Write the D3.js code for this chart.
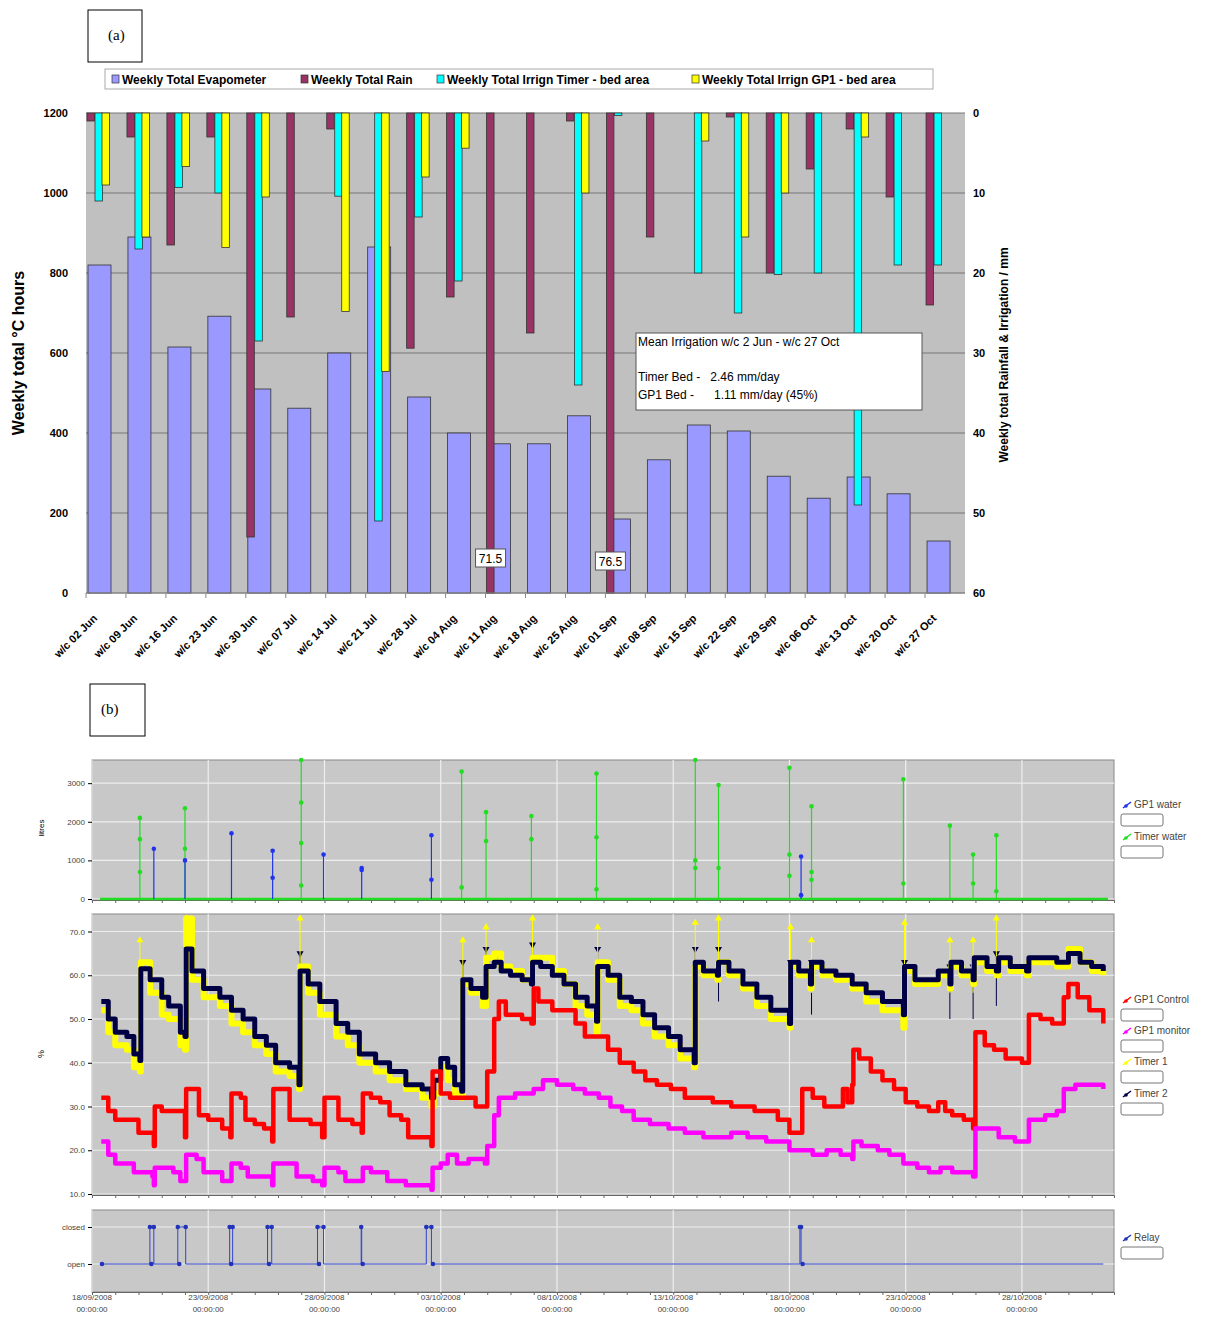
<!DOCTYPE html>
<html><head><meta charset="utf-8">
<script src="https://cdn.jsdelivr.net/npm/d3@7"></script>
<style>body{margin:0;background:#fff}svg{font-family:"Liberation Sans",Arial,sans-serif}</style>
</head><body><div id="chart"></div>
<script>
// ---- (a) weekly totals
const weeks = ["w/c 02 Jun","w/c 09 Jun","w/c 16 Jun","w/c 23 Jun","w/c 30 Jun","w/c 07 Jul","w/c 14 Jul","w/c 21 Jul","w/c 28 Jul","w/c 04 Aug","w/c 11 Aug","w/c 18 Aug","w/c 25 Aug","w/c 01 Sep","w/c 08 Sep","w/c 15 Sep","w/c 22 Sep","w/c 29 Sep","w/c 06 Oct","w/c 13 Oct","w/c 20 Oct","w/c 27 Oct"];
const evap  = [820,890,615,692,510,462,600,865,490,400,373,373,443,185,333,420,405,292,237,290,248,130];
const rain  = [1,3,16.5,3,53,25.5,2,0,29.4,23,71.5,27.5,1,76.5,15.5,0,0.5,20,7,2,10.5,24];
const timer = [11,17,9.3,10,28.5,0,10.4,51,13,21,0,0,34,0.3,0,20,25,20.2,20,49,19,19];
const gp1   = [9,15.5,6.7,16.8,10.5,0,24.8,32.3,8,4.4,0,0,10,0,0,3.5,15.5,10,0,3,0,0];
const leftTicks = [0,200,400,600,800,1000,1200];
const rightTicks = [0,10,20,30,40,50,60];

// ---- (b) logger data, day = days since 18/09/2008 00:00
const dateTicks = ["18/09/2008","23/09/2008","28/09/2008","03/10/2008","08/10/2008","13/10/2008","18/10/2008","23/10/2008","28/10/2008"];
const timerWater = [[2.06,[2100,1550,700]],[4.0,[2350,1300]],[9.0,[3600,2500,1450,350]],[15.9,[3300,300]],[16.95,[2250,1500]],[18.9,[2150,1550]],[21.7,[3250,1600,250]],[25.95,[3600,1000,800]],[26.95,[2950,800]],[30.0,[3400,1150,600]],[30.95,[2400,700,500]],[34.9,[3100,400]],[36.9,[1900]],[37.9,[1150,400]],[38.9,[1650,200]]];
const gp1Water = [[2.66,[1300]],[4.0,[1000]],[6.0,[1700]],[7.77,[1250,550]],[9.96,[1150]],[11.6,[800,750]],[14.6,[1650,500]],[30.5,[1100,100]]];
const relay = [[0.43,0],[2.49,0],[2.49,1],[2.66,1],[2.66,0],[3.69,0],[3.69,1],[4.03,1],[4.03,0],[5.92,0],[5.92,1],[6.05,1],[6.05,0],[7.55,0],[7.55,1],[7.73,1],[7.73,0],[9.7,0],[9.7,1],[9.96,1],[9.96,0],[11.58,0],[11.58,1],[11.6,1],[11.6,0],[14.38,0],[14.38,1],[14.6,1],[14.6,0],[30.45,0],[30.45,1],[30.5,1],[30.5,0],[43.5,0]];
const relayDots = [0.43,2.49,2.66,3.69,4.03,5.92,6.05,7.55,7.73,9.7,9.96,11.58,14.38,14.6,30.45,30.5];
const timer2 = [[0.4,54],[0.7,50],[1.0,47],[1.5,46],[1.8,42],[2.06,40.5],[2.1,61.5],[2.5,59],[3.0,55],[3.3,53],[3.8,47],[4.0,46],[4.05,66],[4.3,61],[4.8,57],[5.5,55],[6.0,52],[6.5,50],[7.0,46],[7.5,44],[7.9,40],[8.5,39],[8.9,35],[8.95,61],[9.3,58],[9.8,54],[10.5,49],[11.0,47],[11.5,42],[12.2,40],[12.8,38],[13.5,35],[14.2,34],[14.6,32],[14.7,36],[15.0,41],[15.3,39],[15.6,35],[15.9,33.5],[15.95,59],[16.3,57],[16.8,55],[16.95,62],[17.3,63],[17.6,61],[18.0,60],[18.5,59],[18.9,58],[18.95,63],[19.3,62],[19.8,60],[20.3,58],[20.8,55],[21.3,53],[21.7,49.5],[21.75,62],[22.2,60],[22.7,55],[23.2,54],[23.7,51],[24.2,48],[24.8,46],[25.3,43],[25.9,40],[25.95,63],[26.3,61],[26.9,60],[26.95,63],[27.4,61],[28,58],[28.6,55],[29.2,52],[30.0,49],[30.05,63],[30.4,61],[30.9,58],[30.95,63],[31.4,61],[32,60],[32.7,58],[33.3,56],[34,54],[34.9,51],[34.95,62],[35.4,59],[35.9,59],[36.4,61],[36.9,58],[36.95,63],[37.4,61],[37.9,59],[37.95,64],[38.5,62],[38.9,61],[39.0,64],[39.5,62],[40.2,61],[40.3,64],[41.0,64],[41.5,63],[42.0,65],[42.5,63],[43.0,62],[43.5,61]];
const timer1 = [[0.4,52],[0.7,47],[1.0,44],[1.5,43],[1.8,39],[2.06,38],[2.1,63],[2.5,56],[3.0,51],[3.3,50],[3.8,44],[4.0,43],[4.05,73],[4.3,59],[4.8,55],[5.5,53],[6.0,49],[6.5,47],[7.0,44],[7.5,42],[7.9,38],[8.5,37],[8.9,34],[8.95,62],[9.3,56],[9.8,51],[10.5,46],[11.0,44],[11.5,40],[12.2,38],[12.8,36],[13.5,34],[14.2,32],[14.6,30],[14.7,33],[15.0,39],[15.3,36],[15.6,33],[15.9,32],[15.95,58],[16.3,56],[16.8,53],[16.95,64],[17.3,65],[17.6,62],[18.0,61],[18.5,59],[18.9,59],[18.95,64],[19.3,64],[19.8,61],[20.3,58],[20.8,53],[21.3,51],[21.7,47],[21.75,63],[22.2,59],[22.7,53],[23.2,52],[23.7,49],[24.2,46],[24.8,44],[25.3,41],[25.9,39],[25.95,62],[26.3,60],[26.9,59],[26.95,63],[27.4,60],[28,57],[28.6,53],[29.2,50],[30.0,48],[30.05,62],[30.4,60],[30.9,57],[30.95,62],[31.4,60],[32,59],[32.7,57],[33.3,54],[34,52],[34.9,48],[34.95,61],[35.4,58],[35.9,58],[36.4,60],[36.9,57],[36.95,62],[37.4,60],[37.9,58],[37.95,63],[38.5,61],[38.9,60],[39.0,63],[39.5,61],[40.2,60],[40.3,63],[41.0,63],[41.5,62],[42.0,66],[42.5,63],[43.0,61],[43.5,60]];
const timer1Peaks = [[2.06,68],[4.05,73],[8.95,73],[15.95,68],[16.95,71],[18.95,73],[21.75,71],[25.95,72],[26.95,73],[30.05,71],[30.95,68],[34.95,72],[36.9,68],[37.9,68],[38.9,73]];
const timer2Peaks = [[4.05,66],[8.95,65],[15.95,63],[16.95,66],[18.95,67],[21.75,66],[25.95,66],[26.95,66],[30.05,63],[30.95,63],[34.95,63],[36.9,62],[37.9,62],[38.9,65]];
const gp1Control = [[0.4,32],[0.7,29],[1.0,27],[1.7,27],[2.0,24],[2.6,24],[2.66,21],[2.7,30],[3.0,29],[3.8,29],[4.0,23],[4.05,34],[4.4,34],[4.6,28],[5.0,27],[5.6,25],[5.95,23],[6.0,33],[6.4,32],[6.6,27],[7.0,26],[7.4,25],[7.75,22],[7.8,34],[8.3,34],[8.5,27],[9.0,27],[9.4,26],[9.9,23],[10.0,32],[10.4,32],[10.6,27],[11.2,26],[11.6,24],[11.65,33],[12.0,32],[12.4,31],[12.8,28],[13.3,27],[13.6,23],[14.2,23],[14.6,21],[14.65,38],[15.0,33],[15.4,32],[16.0,32],[16.5,30],[16.9,30],[17.0,38],[17.3,50],[17.5,54],[17.8,51],[18.5,50],[18.9,49],[19.0,57],[19.2,54],[19.8,52],[20.4,52],[20.8,49],[21.2,46],[21.7,46],[22.2,43],[22.7,40],[23.3,38],[23.8,36],[24.3,35],[24.9,34],[25.5,32],[26.2,32],[26.7,31],[27.5,30],[28.5,29],[29.5,27],[30.0,24],[30.5,24],[30.55,34],[31.0,32],[31.5,30],[32.0,30],[32.3,34],[32.5,31],[32.7,35],[32.75,43],[33.0,41],[33.5,38],[34.0,36],[34.5,34],[35.0,31],[35.5,30],[36.0,29],[36.4,31],[36.7,29],[37.0,28],[37.5,27],[37.9,25],[38.0,47],[38.4,44],[38.8,43],[39.3,41],[40.0,40],[40.3,51],[40.8,50],[41.3,49],[41.8,55],[42.0,58],[42.4,55],[42.9,52],[43.5,49]];
const gp1Monitor = [[0.4,22],[0.7,19],[1.0,17],[1.8,15],[2.6,14],[2.66,12],[2.7,16],[3.5,15],[3.8,13],[4.0,13],[4.05,19],[4.5,18],[4.8,15],[5.6,13],[5.95,13],[6.0,17],[6.4,16],[6.7,14],[7.3,14],[7.75,12],[7.8,17],[8.5,17],[8.8,14],[9.5,13],[9.9,12],[10.0,16],[10.6,15],[10.9,13],[11.6,13],[11.65,16],[12.0,15],[12.7,13],[13.5,12],[14.6,11],[14.65,16],[15.0,17],[15.3,19],[15.7,17],[16.2,18],[16.9,17],[17.0,21],[17.3,28],[17.5,32],[18.2,33],[18.9,33],[19.0,34],[19.4,36],[20.0,35],[20.7,34],[21.2,33],[21.8,32],[22.3,30],[22.8,29],[23.3,27],[24.0,26],[24.8,25],[25.5,24],[26.3,23],[27.0,23],[27.5,24],[28.2,23],[29.0,22],[30.0,20],[30.55,20],[31.0,19],[31.6,20],[32.2,19],[32.7,18],[32.75,22],[33.1,21],[33.8,20],[34.3,19],[34.9,17],[35.5,16],[36.0,15],[36.5,16],[37.0,15],[37.9,14],[38.0,25],[38.5,25],[39.0,23],[39.7,22],[40.2,22],[40.3,27],[41.0,28],[41.5,29],[41.8,34],[42.3,35],[43.0,35],[43.5,34]];

const svg = d3.select("#chart").append("svg").attr("width", 1211).attr("height", 1327);

// ================= (a)
svg.append("rect").attr("x", 88).attr("y", 10).attr("width", 54).attr("height", 52).attr("fill", "#fff").attr("stroke", "#000");
svg.append("text").attr("x", 108).attr("y", 40).attr("font-family", "Liberation Serif").attr("font-size", 15).text("(a)");

const x = d3.scaleBand().domain(weeks).range([86, 965]);
const yL = d3.scaleLinear().domain([0, 1200]).range([593, 113]);
const yR = d3.scaleLinear().domain([0, 60]).range([113, 593]).clamp(true);

svg.append("rect").attr("x", 86).attr("y", 113).attr("width", 879).attr("height", 480).attr("fill", "#c0c0c0");
svg.append("g").selectAll("line").data(leftTicks).join("line")
  .attr("x1", 86).attr("x2", 965).attr("y1", d => yL(d)).attr("y2", d => yL(d)).attr("stroke", "#777");

svg.append("g").selectAll("rect").data(weeks).join("rect")
  .attr("x", (d) => x(d) + 2).attr("width", 23)
  .attr("y", (d, i) => yL(evap[i])).attr("height", (d, i) => 593 - yL(evap[i]))
  .attr("fill", "#9999ff").attr("stroke", "#333").attr("stroke-width", 0.8);

const sec = [[rain, "#993366", 1], [timer, "#00ffff", 9], [gp1, "#ffff00", 16]];
sec.forEach(([vals, col, off]) => {
  svg.append("g").selectAll("rect").data(weeks).join("rect")
    .attr("x", d => x(d) + off).attr("width", 7.5)
    .attr("y", 113).attr("height", (d, i) => yR(vals[i]) - 113)
    .attr("fill", col).attr("stroke", "#333").attr("stroke-width", 0.8)
    .attr("display", (d, i) => vals[i] > 0 ? null : "none");
});

// clipped rain labels
[10, 13].forEach(i => {
  const g = svg.append("g").attr("transform", `translate(${x(weeks[i]) + 5},${i === 10 ? 559 : 562})`);
  g.append("rect").attr("x", -15).attr("y", -10).attr("width", 30).attr("height", 18).attr("fill", "#fff").attr("stroke", "#555");
  g.append("text").attr("text-anchor", "middle").attr("y", 4).attr("font-size", 12).text(rain[i]);
});

svg.append("g").attr("transform", "translate(86,0)")
  .call(d3.axisLeft(yL).tickValues(leftTicks).tickSize(0).tickPadding(18).tickFormat(d3.format("d")))
  .call(g => g.select(".domain").remove())
  .selectAll("text").attr("font-size", 11).attr("font-weight", "bold");
svg.append("g").attr("transform", "translate(965,0)")
  .call(d3.axisRight(yR).tickValues(rightTicks).tickSize(0).tickPadding(8))
  .call(g => g.select(".domain").remove())
  .selectAll("text").attr("font-size", 11).attr("font-weight", "bold");
svg.append("line").attr("x1", 86).attr("x2", 965).attr("y1", 593).attr("y2", 593).attr("stroke", "#888");
svg.append("g").selectAll("line").data(weeks).join("line")
  .attr("x1", d => x(d)).attr("x2", d => x(d)).attr("y1", 593).attr("y2", 598).attr("stroke", "#888");
svg.append("g").selectAll("text").data(weeks).join("text")
  .attr("transform", d => `translate(${x(d) + 12},${619}) rotate(-45)`)
  .attr("text-anchor", "end").attr("font-size", 11).attr("font-weight", "bold").text(d => d);

svg.append("text").attr("transform", "translate(24,353) rotate(-90)").attr("text-anchor", "middle")
  .attr("font-size", 16).attr("font-weight", "bold").text("Weekly total °C hours");
svg.append("text").attr("transform", "translate(1008,355) rotate(-90)").attr("text-anchor", "middle")
  .attr("font-size", 12).attr("font-weight", "bold").text("Weekly total Rainfall & Irrigation / mm");

// legend
svg.append("rect").attr("x", 105).attr("y", 69).attr("width", 828).attr("height", 20).attr("fill", "#fff").attr("stroke", "#aaa");
const legA = [["Weekly Total Evapometer", "#9999ff", 112], ["Weekly Total Rain", "#993366", 301], ["Weekly Total Irrign Timer - bed area", "#00ffff", 437], ["Weekly Total Irrign GP1 - bed area", "#ffff00", 692]];
legA.forEach(([t, c, lx]) => {
  svg.append("rect").attr("x", lx).attr("y", 75).attr("width", 7).attr("height", 8).attr("fill", c).attr("stroke", "#333").attr("stroke-width", 0.7);
  svg.append("text").attr("x", lx + 10).attr("y", 83.5).attr("font-size", 12).attr("font-weight", "bold").text(t);
});

// annotation box
svg.append("rect").attr("x", 636).attr("y", 333).attr("width", 286).attr("height", 77).attr("fill", "#fff").attr("stroke", "#555");
[["Mean Irrigation w/c 2 Jun - w/c 27 Oct", 346], ["Timer Bed -   2.46 mm/day", 381], ["GP1 Bed -      1.11 mm/day (45%)", 399]].forEach(([t, ty]) =>
  svg.append("text").attr("x", 638).attr("y", ty).attr("font-size", 12).style("white-space", "pre").text(t));

// ================= (b)
svg.append("rect").attr("x", 90).attr("y", 684).attr("width", 55).attr("height", 52).attr("fill", "#fff").attr("stroke", "#000");
svg.append("text").attr("x", 101).attr("y", 714).attr("font-family", "Liberation Serif").attr("font-size", 15).text("(b)");

const t = d3.scaleLinear().domain([0, 43.96]).range([92, 1114]);
const tickDays = dateTicks.map((d, i) => i * 5);

function panel(y0, y1) {
  svg.append("rect").attr("x", 92).attr("y", y0).attr("width", 1022).attr("height", y1 - y0)
    .attr("fill", "#c8c8c8").attr("stroke", "#888");
  svg.append("g").selectAll("line").data(tickDays).join("line")
    .attr("x1", d => t(d)).attr("x2", d => t(d)).attr("y1", y0).attr("y2", y1).attr("stroke", "#eee").attr("stroke-width", 1.2);
  svg.append("g").attr("transform", `translate(0,${y1})`)
    .call(d3.axisBottom(t).ticks(44).tickSize(3).tickFormat(""))
    .call(g => g.selectAll("line,path").attr("stroke", "#666"));
}
function hgrid(scale, vals, fmt) {
  svg.append("g").selectAll("line").data(vals).join("line")
    .attr("x1", 92).attr("x2", 1114).attr("y1", d => scale(d)).attr("y2", d => scale(d)).attr("stroke", "#eee").attr("stroke-width", 1.2);
  svg.append("g").attr("transform", "translate(92,0)")
    .call(d3.axisLeft(scale).tickValues(vals).tickSize(4).tickFormat(fmt))
    .call(g => g.select(".domain").remove())
    .call(g => g.selectAll("text").attr("font-size", 8).attr("fill", "#444"));
}

// panel 1: water
const yW = d3.scaleLinear().domain([0, 3600]).range([899, 760]);
panel(760, 900);
hgrid(yW, [0, 1000, 2000, 3000], d3.format("d"));
svg.append("text").attr("transform", "translate(44,828) rotate(-90)").attr("text-anchor", "middle").attr("font-size", 8).text("litres");
svg.append("line").attr("x1", 100).attr("x2", 1108).attr("y1", yW(0)).attr("y2", yW(0)).attr("stroke", "#22dd22").attr("stroke-width", 2.5);
[[timerWater, "#22dd22"], [gp1Water, "#2233ee"]].forEach(([ev, c]) => {
  ev.forEach(([d, vs]) => {
    svg.append("line").attr("x1", t(d)).attr("x2", t(d)).attr("y1", yW(0)).attr("y2", yW(d3.max(vs))).attr("stroke", c).attr("stroke-width", 1.2);
    svg.append("g").selectAll("circle").data(vs).join("circle").attr("cx", t(d)).attr("cy", v => yW(v)).attr("r", 2.3).attr("fill", c);
  });
});

// panel 2: moisture
const yM = d3.scaleLinear().domain([10, 74]).range([1194, 914]);
panel(914, 1195);
hgrid(yM, [10, 20, 30, 40, 50, 60, 70], d3.format(".1f"));
svg.append("text").attr("transform", "translate(44,1054) rotate(-90)").attr("text-anchor", "middle").attr("font-size", 9).text("%");
const line = d3.line().x(d => t(d[0])).y(d => yM(d[1])).curve(d3.curveStepAfter);
[[timer2Peaks, "#000044"], [timer1Peaks, "#ffff00"]].forEach(([pk, c]) => {
  pk.forEach(([d, v]) => {
    svg.append("line").attr("x1", t(d)).attr("x2", t(d)).attr("y1", yM(v)).attr("y2", yM(v - 12)).attr("stroke", c).attr("stroke-width", 1);
    svg.append("path").attr("d", d3.symbol(d3.symbolTriangle, 22)()).attr("transform", `translate(${t(d)},${yM(v)})${c === "#000044" ? " rotate(180)" : ""}`).attr("fill", c);
  });
});
[[timer1, "#ffff00", 6], [timer2, "#000044", 5], [gp1Control, "#ff0000", 4.5], [gp1Monitor, "#ff00ff", 4.5]].forEach(([data, c, w]) => {
  svg.append("path").datum(data).attr("d", line).attr("fill", "none").attr("stroke", c).attr("stroke-width", w).attr("stroke-linejoin", "round");
});

// panel 3: relay
const yRel = d3.scaleLinear().domain([0, 1]).range([1264, 1227]);
panel(1210, 1292);
hgrid(yRel, [0, 1], d => d ? "closed" : "open");
svg.append("path").datum(relay).attr("d", d3.line().x(d => t(d[0])).y(d => yRel(d[1])))
  .attr("fill", "none").attr("stroke", "#3344cc").attr("stroke-width", 1);
relayDots.forEach((d, i) => {
  svg.append("circle").attr("cx", t(d)).attr("cy", yRel(1)).attr("r", 2.3).attr("fill", "#2233bb").attr("display", i ? null : "none");
  svg.append("circle").attr("cx", t(d) + (i ? 1.5 : 0)).attr("cy", yRel(0)).attr("r", 2.3).attr("fill", "#2233bb").attr("display", i % 2 || i === 0 ? null : "none");
});

// date labels
svg.append("g").selectAll("text").data(dateTicks).join("text")
  .attr("x", (d, i) => t(tickDays[i])).attr("y", 1300).attr("text-anchor", "middle").attr("font-size", 8).attr("fill", "#444")
  .call(s => s.append("tspan").text(d => d))
  .call(s => s.append("tspan").attr("x", (d, i) => t(tickDays[i])).attr("dy", 12).text("00:00:00"));

// right legends
const legB = [["GP1 water", "#2233ee", 805], ["Timer water", "#22dd22", 837], ["GP1 Control", "#ff0000", 1000], ["GP1 monitor", "#ff00ff", 1031], ["Timer 1", "#ffff00", 1062], ["Timer 2", "#000044", 1094], ["Relay", "#2233bb", 1238]];
legB.forEach(([n, c, ly]) => {
  svg.append("line").attr("x1", 1123).attr("x2", 1131).attr("y1", ly + 3).attr("y2", ly - 3).attr("stroke", c).attr("stroke-width", 1.5);
  svg.append("circle").attr("cx", 1126).attr("cy", ly + 1).attr("r", 1.8).attr("fill", c);
  svg.append("text").attr("x", 1134).attr("y", ly + 3).attr("font-size", 10).attr("fill", "#444").text(n);
  svg.append("rect").attr("x", 1121).attr("y", ly + 9).attr("width", 42).attr("height", 12).attr("fill", "#fff").attr("stroke", "#777").attr("rx", 2);
});
</script></body></html>
